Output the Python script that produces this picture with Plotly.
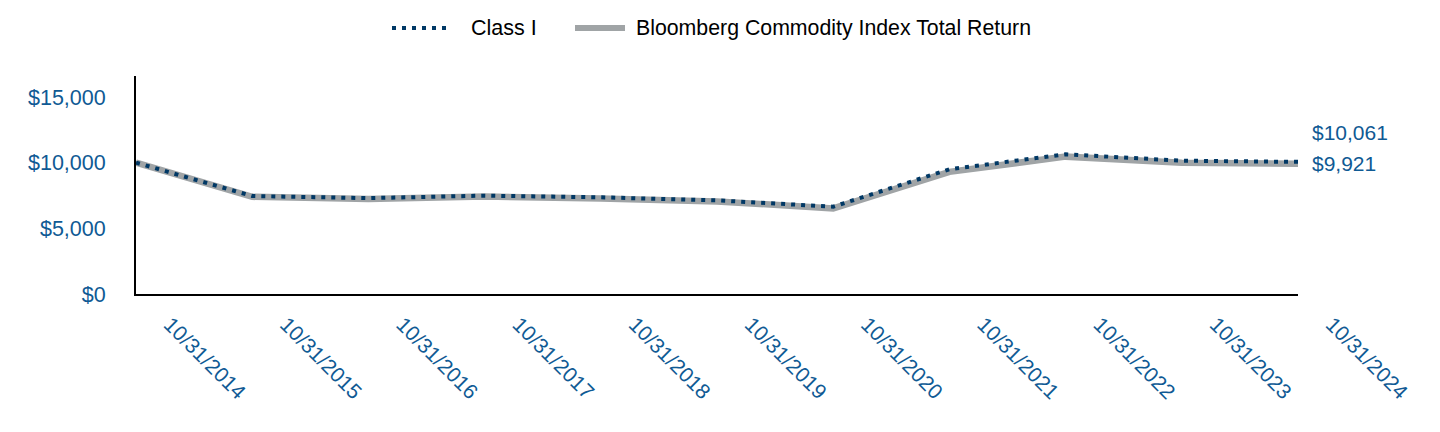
import plotly.graph_objects as go

dates = ["10/31/2014", "10/31/2015", "10/31/2016", "10/31/2017", "10/31/2018",
         "10/31/2019", "10/31/2020", "10/31/2021", "10/31/2022", "10/31/2023", "10/31/2024"]
class_i = [10000, 7460, 7300, 7490, 7360, 7130, 6650, 9500, 10640, 10150, 10061]
bcom = [10000, 7400, 7240, 7420, 7270, 7050, 6520, 9300, 10460, 10000, 9921]
y_ticks = [0, 5000, 10000, 15000]
y_tick_text = ["$0", "$5,000", "$10,000", "$15,000"]
series_names = ["Class I", "Bloomberg Commodity Index Total Return"]

idx = list(range(len(dates)))
label_color = "#0F5A94"
navy = "#003865"
gray = "#A0A4A6"
font_family = "Arial, Liberation Sans, sans-serif"

# page body has an 8px margin; compensate so the plot lands at the target pixels
OFF = 8
W, H = 1440 - OFF, 432 - OFF
ML, MR, MT, MB = 136 - OFF, 142, 76 - OFF, 138
PW, PH = W - ML - MR, H - MT - MB


def px_to_paper(px, py):
    fx, fy = px - OFF, py - OFF
    return (fx - ML) / PW, (H - MB - fy) / PH


fig = go.Figure()
fig.add_trace(go.Scatter(
    x=idx, y=bcom, name=series_names[1], mode="lines",
    line=dict(color=gray, width=6.5), showlegend=False,
))
fig.add_trace(go.Scatter(
    x=idx, y=class_i, name=series_names[0], mode="lines",
    line=dict(color=navy, width=4, dash="4px,6px"), showlegend=False,
))

# end-value labels
fig.add_annotation(x=idx[-1], y=class_i[-1], xref="x", yref="y",
                   text="$" + f"{class_i[-1]:,}", showarrow=False,
                   xanchor="left", yanchor="middle", xshift=12, yshift=29,
                   font=dict(color=label_color, size=21, family=font_family))
fig.add_annotation(x=idx[-1], y=bcom[-1], xref="x", yref="y",
                   text="$" + f"{bcom[-1]:,}", showarrow=False,
                   xanchor="left", yanchor="middle", xshift=12, yshift=0,
                   font=dict(color=label_color, size=21, family=font_family))

# manual legend
ly = 28
x0, y0 = px_to_paper(392, ly)
x1, _ = px_to_paper(450, ly)
fig.add_shape(type="line", xref="paper", yref="paper", x0=x0, x1=x1, y0=y0, y1=y0,
              line=dict(color=navy, width=4, dash="4px,6px"))
tx, _ = px_to_paper(469, ly)
fig.add_annotation(xref="paper", yref="paper", x=tx, y=y0, text=series_names[0],
                   showarrow=False, xanchor="left", yanchor="middle",
                   font=dict(color="#000000", size=21.5, family=font_family))
x0, _ = px_to_paper(575, ly)
x1, _ = px_to_paper(625, ly)
fig.add_shape(type="line", xref="paper", yref="paper", x0=x0, x1=x1, y0=y0, y1=y0,
              line=dict(color=gray, width=6))
tx, _ = px_to_paper(634, ly)
fig.add_annotation(xref="paper", yref="paper", x=tx, y=y0, text=series_names[1],
                   showarrow=False, xanchor="left", yanchor="middle",
                   font=dict(color="#000000", size=21.3, family=font_family))

fig.update_layout(
    width=W, height=H,
    margin=dict(l=ML, r=MR, t=MT, b=MB, autoexpand=False),
    plot_bgcolor="white", paper_bgcolor="white",
    font=dict(family=font_family, size=21, color="#000000"),
    showlegend=False,
    xaxis=dict(
        range=[0, 10], tickmode="array", tickvals=idx, ticktext=dates,
        tickangle=45, showgrid=False, zeroline=False, automargin=False,
        showline=True, linecolor="#000000", linewidth=2,
        ticks="", tickfont=dict(color=label_color, size=21, family=font_family),
        ticklabelshift=34, ticklabelstandoff=8,
    ),
    yaxis=dict(
        range=[0, 16600], tickmode="array", tickvals=y_ticks, ticktext=y_tick_text,
        showgrid=False, zeroline=False, automargin=False,
        showline=True, linecolor="#000000", linewidth=2,
        ticks="", ticklabelstandoff=24,
        tickfont=dict(color=label_color, size=21.5, family=font_family),
    ),
)

fig.write_html("out.html")
